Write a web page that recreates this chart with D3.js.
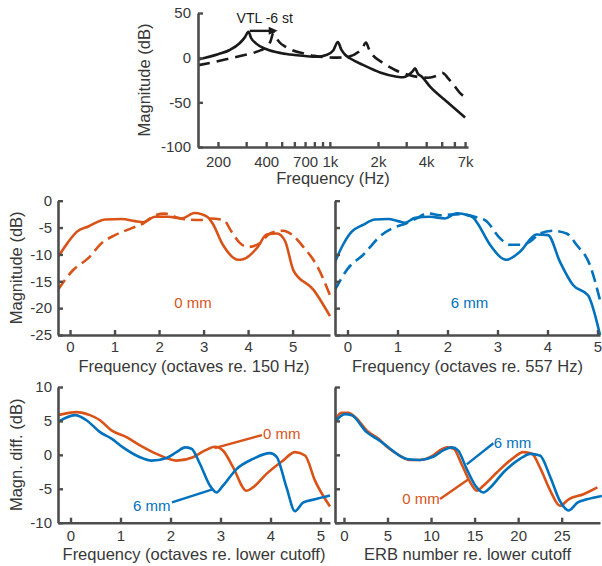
<!DOCTYPE html>
<html><head><meta charset="utf-8">
<script src="https://cdn.jsdelivr.net/npm/d3@7"></script>
<style>
body{margin:0;background:#fff;}
text{font-family:"Liberation Sans",Arial,Helvetica,sans-serif;}
</style></head>
<body><svg id="c" width="602" height="566"></svg>
<script>
// ---------- DATA ----------
// Top panel: [frequency Hz, magnitude dB]
const topSolid = [[150,-2],[200,3.9],[237,8.6],[273,16.1],[295,23],[310,29],[322,22],[345,16],[403,9.4],[500,5],[600,3],[700,1.8],[830,1],[950,3],[1050,8],[1122,17.5],[1180,9],[1250,3],[1335,-0.7],[1610,-8],[2060,-16.5],[2620,-21.3],[2870,-22],[3090,-19.5],[3300,-15],[3410,-12],[3550,-18],[3760,-21.3],[4230,-32.5],[5390,-49.3],[7000,-67]];
const topDashed = [[150,-8.5],[182,-5.5],[229,-1.5],[293,3],[354,7],[400,12],[425,18],[445,28],[460,23],[486,17],[530,12],[578,8.6],[697,4.4],[800,2],[930,0.5],[1122,0],[1335,1.5],[1498,6],[1600,11],[1682,17],[1760,9],[1834,4],[2150,-6],[2556,-13.8],[3084,-19],[3668,-22],[4118,-22.5],[4623,-20.5],[5040,-17],[5250,-19],[5420,-22],[5910,-30],[6540,-40],[7300,-46]];
const topXTicks = [200,300,400,500,600,700,800,900,1000,2000,3000,4000,5000,6000,7000];
const topXLabels = {200:"200",400:"400",700:"700",1000:"1k",2000:"2k",4000:"4k",7000:"7k"};
const topYTicks = [50,0,-50,-100];

// Middle panels: [octaves, magnitude dB]
const mid0Solid = [[-0.27,-10.5],[-0.05,-7.8],[0.15,-5.8],[0.41,-4.8],[0.79,-3.5],[1.16,-3.4],[1.46,-3.8],[1.65,-4.0],[1.91,-3.0],[2.21,-3.0],[2.51,-3.3],[2.8,-2.3],[2.95,-2.5],[3.1,-3.1],[3.2,-4.2],[3.44,-8.3],[3.78,-11.0],[3.89,-10.9],[4.2,-8.8],[4.42,-6.3],[4.65,-6.1],[4.83,-7.5],[5.02,-13.0],[5.47,-16.6],[5.84,-21.5]];
const mid0Dashed = [[-0.27,-16.6],[0.07,-12.9],[0.41,-10.7],[0.71,-7.9],[1.01,-6.4],[1.39,-5.1],[1.65,-4.2],[1.91,-2.7],[2.13,-2.4],[2.47,-3.3],[2.92,-3.6],[3.15,-3.3],[3.45,-3.6],[3.63,-5.8],[3.82,-7.9],[4.0,-8.6],[4.27,-7.9],[4.49,-6.1],[4.79,-5.6],[4.98,-6.3],[5.24,-8.6],[5.54,-12],[5.84,-17.6]];
const mid6Solid = [[-0.25,-11.4],[-0.09,-8.2],[0.08,-5.8],[0.31,-4.5],[0.55,-3.5],[0.81,-3.4],[1.01,-3.8],[1.15,-4.1],[1.35,-3.2],[1.65,-3.0],[1.95,-3.3],[2.18,-2.35],[2.41,-2.7],[2.52,-3.2],[2.6,-4.2],[2.85,-8.2],[3.18,-11.0],[3.45,-9.5],[3.78,-6.3],[4.01,-6.4],[4.25,-11.4],[4.51,-15.7],[4.81,-17.6],[5.05,-25]];
const mid6Dashed = [[-0.25,-16.6],[0.01,-12.6],[0.31,-10.1],[0.68,-6.4],[0.91,-5.1],[1.18,-4.2],[1.38,-3.3],[1.61,-2.35],[1.85,-2.7],[2.25,-2.5],[2.65,-3.3],[2.75,-3.6],[3.05,-7.0],[3.25,-8.2],[3.48,-8.2],[3.65,-7.6],[3.85,-6.1],[4.11,-5.6],[4.38,-6.1],[4.58,-8.2],[4.85,-12],[5.05,-18.5]];
const midLTicks = [0,1,2,3,4,5];
const midRTicks = [0,1,2,3,4,5];
const midYTicks = [0,-5,-10,-15,-20,-25];

// Bottom panels: [octaves or ERB number, magnitude difference dB]
const botOct0 = [[-0.25,5.85],[0.12,6.3],[0.39,5.85],[0.59,5.1],[0.82,3.6],[1.12,2.6],[1.39,1.4],[1.72,0.15],[2.12,-0.85],[2.45,-0.35],[2.69,0.65],[2.89,1.2],[3.05,0.65],[3.25,-1.8],[3.52,-5.3],[3.65,-4.8],[3.92,-2.8],[4.25,-0.85],[4.49,0.4],[4.69,-0.1],[4.89,-3.8],[5.19,-7.6]];
const botOct6 = [[-0.25,4.85],[0.09,5.85],[0.32,5.1],[0.59,3.35],[0.82,2.4],[1.05,1.1],[1.39,-0.35],[1.62,-0.85],[1.92,-0.45],[2.12,0.4],[2.29,1.1],[2.42,0.9],[2.59,-1.35],[2.79,-4.55],[2.92,-5.55],[3.05,-4.55],[3.32,-2.1],[3.65,-0.6],[3.99,0.25],[4.12,-0.25],[4.32,-4.8],[4.49,-8.3],[4.65,-7.05],[4.89,-6.55],[5.19,-6.0]];
const botErb0 = [[-1.03,5.2],[-0.27,6.2],[0.49,6.2],[1.46,5.35],[2.6,3.6],[3.95,2.4],[5.1,1.0],[6.4,-0.1],[7.6,-0.75],[8.7,-0.75],[10.1,-0.2],[11.0,0.65],[11.8,1.1],[12.6,0.9],[13.5,-1.35],[14.5,-4.05],[15.25,-5.3],[16.0,-4.55],[17.55,-2.6],[19.3,-0.6],[20.6,0.4],[21.6,0.15],[22.5,-1.85],[23.7,-5.3],[24.8,-7.5],[25.8,-6.55],[27.5,-5.8],[29.1,-4.8]];
const botErb6 = [[-1.03,4.85],[0.11,6.0],[0.88,5.85],[2.6,3.35],[4.1,2.1],[5.3,0.9],[7.2,-0.6],[8.7,-0.75],[10.3,-0.25],[11.4,0.65],[12.4,1.1],[13.1,0.65],[14.1,-2.1],[15.1,-4.55],[16.0,-5.55],[16.8,-4.8],[18.3,-2.6],[20.2,-0.6],[21.4,0.15],[22.5,-0.1],[23.7,-3.3],[24.8,-6.8],[25.8,-8.2],[26.8,-7.05],[27.9,-6.55],[29.6,-6.05]];
const botLTicks = [0,1,2,3,4,5];
const botRTicks = [0,5,10,15,20,25];
const botYTicks = [10,5,0,-5,-10];

// ---------- DRAW ----------
const ORANGE = "#D95319", BLUE = "#0072BD", BLACK = "#1a1a1a";
const AXC = "#4d4d4d", TXC = "#383838";
const svg = d3.select("#c");
svg.append("rect").attr("width",602).attr("height",566).attr("fill","#fff");

let clipId = 0;
function panel(o){
  const g = svg.append("g");
  const x = o.x, y = o.y;
  const id = "clip"+(clipId++);
  svg.append("clipPath").attr("id",id).append("rect")
    .attr("x",x.range()[0]).attr("y",y.range()[1]-2)
    .attr("width",x.range()[1]-x.range()[0]+2).attr("height",y.range()[0]-y.range()[1]+2);
  const plot = g.append("g").attr("clip-path","url(#"+id+")");
  o.series.forEach(s=>{
    plot.append("path").datum(s.data)
      .attr("fill","none").attr("stroke",s.color).attr("stroke-width",2.6)
      .attr("stroke-linejoin","round").attr("stroke-linecap","butt")
      .attr("stroke-dasharray",s.dash||null)
      .attr("d",d3.line().x(d=>x(d[0])).y(d=>y(d[1])).curve(s.curve||d3.curveMonotoneX));
  });
  const xa = d3.axisBottom(x).tickValues(o.xTicks).tickSizeInner(-5).tickSizeOuter(0).tickPadding(o.xPad)
    .tickFormat(o.xFmt||(d=>d));
  const ya = d3.axisLeft(y).tickValues(o.yTicks).tickSizeInner(-5).tickSizeOuter(0).tickPadding(o.yPad)
    .tickFormat(o.yLabels?(d=>d):(()=>""));
  const gx = g.append("g").attr("transform","translate(0,"+y.range()[0]+")").call(xa);
  const gy = g.append("g").attr("transform","translate("+x.range()[0]+",0)").call(ya);
  [gx,gy].forEach(a=>{
    a.select(".domain").attr("stroke",AXC).attr("stroke-width",2.6);
    a.selectAll(".tick line").attr("stroke",AXC).attr("stroke-width",2.4);
    a.selectAll(".tick text").attr("fill",TXC).attr("font-size",15)
      .attr("font-family","'Liberation Sans',Arial,Helvetica,sans-serif");
  });
  if(o.xTitle) g.append("text").attr("x",(x.range()[0]+x.range()[1])/2).attr("y",o.xTitleY)
    .attr("text-anchor","middle").attr("font-size",16.5).attr("fill",TXC).text(o.xTitle);
  if(o.yTitle) g.append("text").attr("transform","translate("+o.yTitleX+","+((y.range()[0]+y.range()[1])/2)+") rotate(-90)")
    .attr("text-anchor","middle").attr("font-size",16.5).attr("fill",TXC).text(o.yTitle);
  return g;
}

// Top panel
const xTop = d3.scaleLog().domain([150,7300]).range([198,468]);
const yTop = d3.scaleLinear().domain([-100,50]).range([147,13]);
const gTop = panel({x:xTop,y:yTop,xTicks:topXTicks,yTicks:topYTicks,xPad:9,yPad:7,yLabels:true,
  xFmt:d=>topXLabels[d]||"",
  series:[{data:topDashed,color:BLACK,dash:"12,7"},{data:topSolid,color:BLACK}],
  xTitle:"Frequency (Hz)",xTitleY:184,yTitle:"Magnitude (dB)",yTitleX:150});
// arrow annotation
const ay = yTop(30), ax0 = xTop(316), ax1 = xTop(472);
gTop.append("line").attr("x1",ax0).attr("x2",ax1-6).attr("y1",ay).attr("y2",ay)
  .attr("stroke",BLACK).attr("stroke-width",2.4);
gTop.append("path").attr("d",`M${ax1},${ay} L${ax1-9},${ay-4} L${ax1-9},${ay+4} Z`).attr("fill",BLACK);
gTop.append("text").attr("x",xTop(392)).attr("y",yTop(38.3)).attr("text-anchor","middle")
  .attr("font-size",14).attr("fill",BLACK).text("VTL -6 st");

// Middle panels
const yMid = d3.scaleLinear().domain([-25,0]).range([335,200.7]);
const xMidL = d3.scaleLinear().domain([-0.27,5.84]).range([58,330]);
const xMidR = d3.scaleLinear().domain([-0.25,5.05]).range([335,600]);
const gML = panel({x:xMidL,y:yMid,xTicks:midLTicks,yTicks:midYTicks,xPad:6,yPad:6,yLabels:true,
  series:[{data:mid0Dashed,color:ORANGE,dash:"12,6"},{data:mid0Solid,color:ORANGE}],
  xTitle:"Frequency (octaves re. 150 Hz)",xTitleY:372,yTitle:"Magnitude (dB)",yTitleX:22});
gML.append("text").attr("x",xMidL(2.76)).attr("y",yMid(-19.9)).attr("text-anchor","middle")
  .attr("font-size",15).attr("fill",ORANGE).text("0 mm");
const gMR = panel({x:xMidR,y:yMid,xTicks:midRTicks,yTicks:midYTicks,xPad:6,yPad:6,yLabels:false,
  series:[{data:mid6Dashed,color:BLUE,dash:"12,6"},{data:mid6Solid,color:BLUE}],
  xTitle:"Frequency (octaves re. 557 Hz)",xTitleY:372});
gMR.append("text").attr("x",xMidR(2.44)).attr("y",yMid(-19.9)).attr("text-anchor","middle")
  .attr("font-size",15).attr("fill",BLUE).text("6 mm");

// Bottom panels
const yBot = d3.scaleLinear().domain([-10,10]).range([522.7,387]);
const xBotL = d3.scaleLinear().domain([-0.25,5.19]).range([58,330]);
const xBotR = d3.scaleLinear().domain([-1.03,29.4]).range([335,600]);
const gBL = panel({x:xBotL,y:yBot,xTicks:botLTicks,yTicks:botYTicks,xPad:8,yPad:6,yLabels:true,
  series:[{data:botOct0,color:ORANGE},{data:botOct6,color:BLUE}],
  xTitle:"Frequency (octaves re. lower cutoff)",xTitleY:560,yTitle:"Magn. diff. (dB)",yTitleX:22});
function leader(g,x,y,p0,p1,col,label,anchor,tp){
  g.append("line").attr("x1",x(p0[0])).attr("y1",y(p0[1])).attr("x2",x(p1[0])).attr("y2",y(p1[1]))
    .attr("stroke",col).attr("stroke-width",2.4);
  g.append("text").attr("x",x(tp[0])).attr("y",y(tp[1])).attr("text-anchor",anchor)
    .attr("font-size",15).attr("fill",col).text(label);
}
leader(gBL,xBotL,yBot,[2.88,1.0],[3.83,2.9],ORANGE,"0 mm","start",[3.85,2.4]);
leader(gBL,xBotL,yBot,[2.84,-5.1],[2.03,-7.0],BLUE,"6 mm","end",[2.0,-8.3]);
const gBR = panel({x:xBotR,y:yBot,xTicks:botRTicks,yTicks:botYTicks,xPad:8,yPad:6,yLabels:false,
  series:[{data:botErb0,color:ORANGE},{data:botErb6,color:BLUE}],
  xTitle:"ERB number re. lower cutoff",xTitleY:560});
leader(gBR,xBotR,yBot,[14.1,-1.4],[17.16,1.7],BLUE,"6 mm","start",[17.2,1.0]);
leader(gBR,xBotR,yBot,[14.3,-3.6],[11.03,-6.5],ORANGE,"0 mm","end",[11.0,-7.2]);
</script></body></html>
